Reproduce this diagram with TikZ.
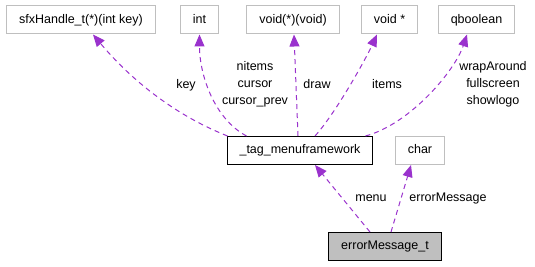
\documentclass[tikz,border=0pt]{standalone}
\usepackage{fontspec}
\setmainfont{Liberation Sans}
\usetikzlibrary{arrows.meta}
\definecolor{edgepurple}{HTML}{9A32CD}
\definecolor{boxgray}{HTML}{BFBFBF}
\tikzstyle{member} = [rectangle, minimum height=28pt, inner xsep=12.5pt, text height=9.3pt, text depth=2.6pt, draw=boxgray, line width=1pt]
\tikzstyle{struct} = [member, draw=black]
\tikzstyle{rootbox} = [struct, fill=boxgray]
\tikzstyle{edgelabel} = [align=center, inner sep=0pt]
\tikzstyle{arrow} = [line width=1pt, dash pattern=on 5pt off 4pt, draw=edgepurple, ->, >={Triangle[length=12pt,width=10pt,fill=edgepurple]}]

\begin{document}
\begin{tikzpicture}[x=1pt, y=-1pt, font=\fontsize{12.5}{17}\selectfont]
\useasboundingbox (0,0) rectangle (535,267);
% member types
\node (SfxHandle)[member] at (81,20) {sfxHandle\_t(*)(int key)};
\node (IntType)[member] at (199.5,20) {int};
\node (VoidFunc)[member] at (293,20) {void(*)(void)};
\node (VoidPtr)[member] at (389.5,20) {void *};
\node (QBoolean)[member] at (476.5,20) {qboolean};
\node (TagMenu)[struct] at (300,150.5) {\_tag\_menuframework};
\node (CharType)[member] at (420,150.5) {char};
\node (ErrMsg)[rootbox] at (385,246.5) {errorMessage\_t};
% edges of _tag_menuframework
\draw [arrow]([xshift=1pt]TagMenu.north west) .. controls +(-48,-19) and +(42,50) .. ([xshift=12pt]SfxHandle.south);
\draw [arrow]([xshift=20pt]TagMenu.north west) .. controls +(-32,-17) and +(0,41) .. (IntType.south);
\draw [arrow]([xshift=-2pt]TagMenu.north) -- ([xshift=1pt]VoidFunc.south);
\draw [arrow]([xshift=15pt]TagMenu.north) .. controls +(20,-22) and +(-12,26) .. ([xshift=-12.5pt]VoidPtr.south);
\draw [arrow]([xshift=-8pt]TagMenu.north east) .. controls +(45,-12) and +(-12,36) .. ([xshift=-9.5pt]QBoolean.south);
% edges of errorMessage_t
\draw [arrow]([xshift=-15pt]ErrMsg.north) -- ([xshift=15pt]TagMenu.south);
\draw [arrow]([xshift=6pt]ErrMsg.north) -- ([xshift=-9pt]CharType.south);
% field names
\node (KeyLbl)[edgelabel] at (186,85) {key};
\node (IntLbl)[edgelabel] at (255,84) {nitems\\cursor\\cursor\_prev};
\node (DrawLbl)[edgelabel] at (317,84) {draw};
\node (ItemsLbl)[edgelabel] at (387,84) {items};
\node (BoolLbl)[edgelabel] at (493,84) {wrapAround\\fullscreen\\showlogo};
\node (MenuLbl)[edgelabel] at (371,198) {menu};
\node (ErrLbl)[edgelabel] at (448,198) {errorMessage};
\end{tikzpicture}
\end{document}
